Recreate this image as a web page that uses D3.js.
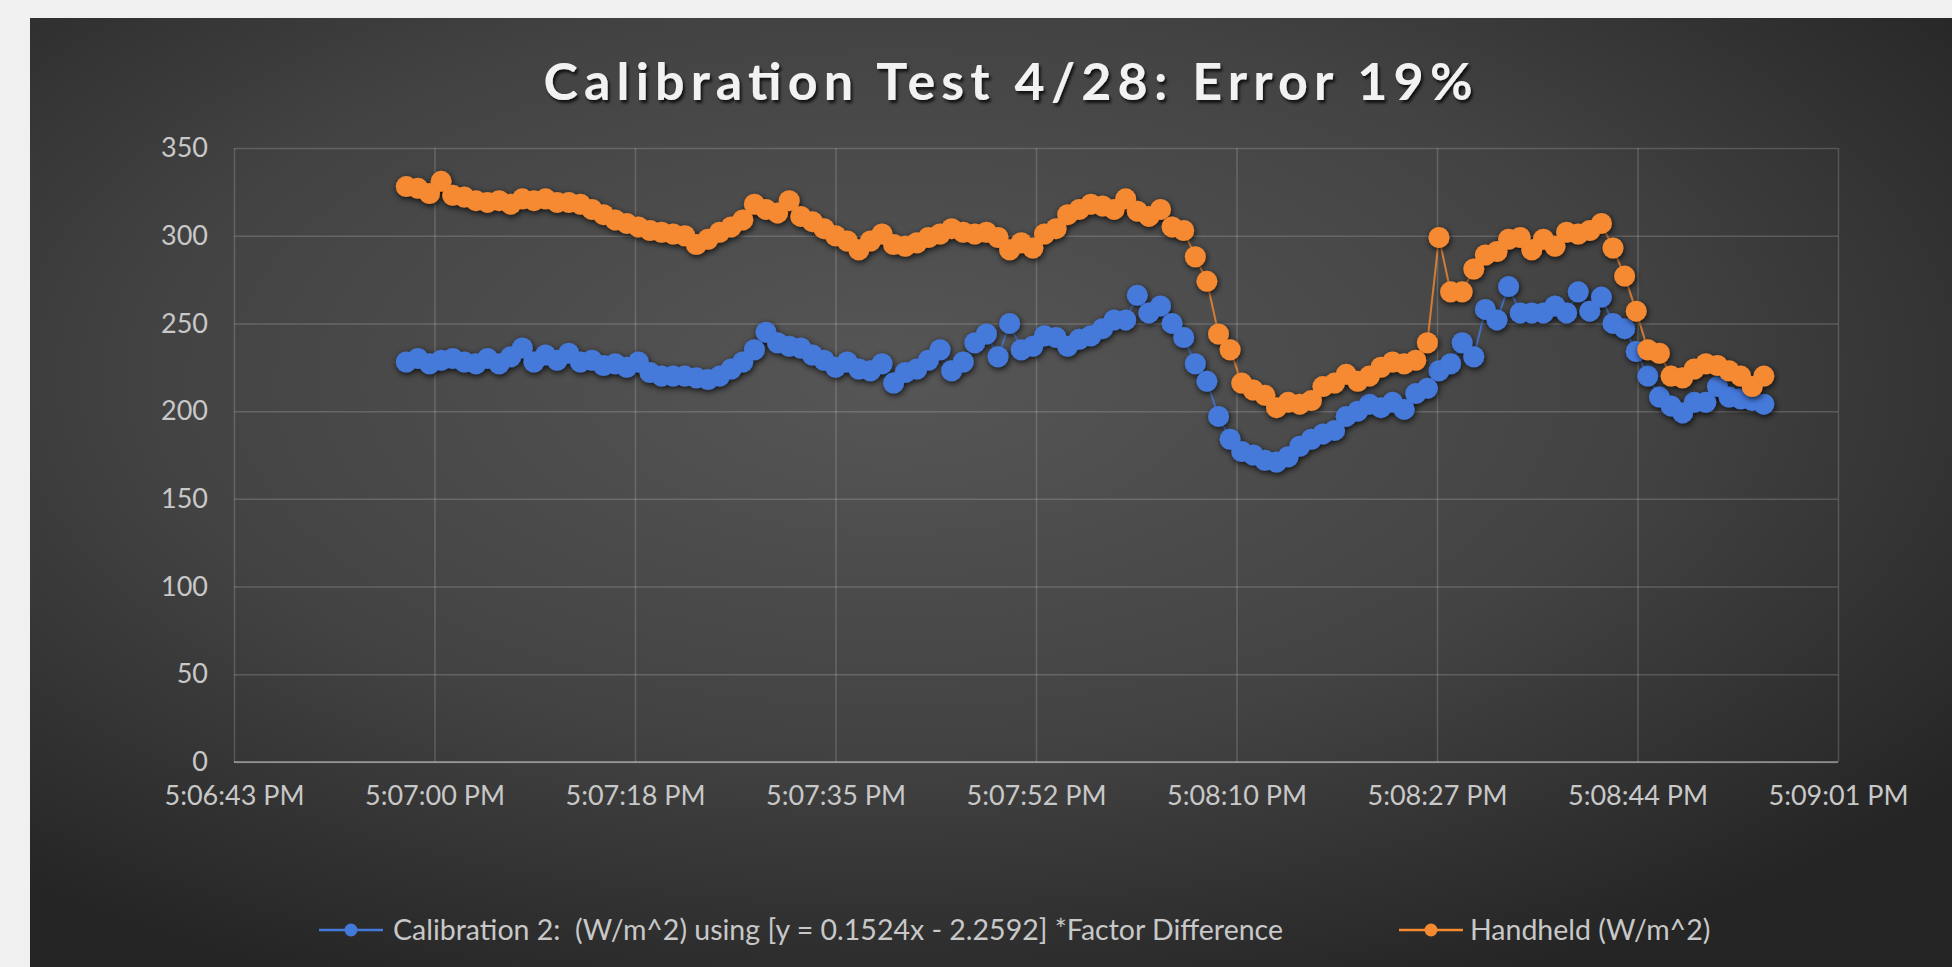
<!DOCTYPE html>
<html>
<head>
<meta charset="utf-8">
<script src="https://cdn.jsdelivr.net/npm/d3@7"></script>
<style>
  body { margin: 0; background: #f0f0f0; }
  svg { display: block; }
  text { font-family: Lato, "Open Sans", sans-serif; }
</style>
</head>
<body>
<svg id="chart" width="1952" height="967"></svg>
<script>
// reading times, seconds after 5:06:00 PM
var secs = [58,59,60,61,62,63,64,65,66,67,68,69,70,71,72,73,74,75,76,77,
  78,79,80,81,82,83,84,85,86,87,88,89,90,91,92,93,94,95,96,97,
  98,99,100,101,102,103,104,105,106,107,108,109,110,111,112,113,114,115,116,117,
  118,119,120,121,122,123,124,125,126,127,128,129,130,131,132,133,134,135,136,137,
  138,139,140,141,142,143,144,145,146,147,148,149,150,151,152,153,154,155,156,157,
  158,159,160,161,162,163,164,165,166,167,168,169,170,171,172,173,174,175];

// Calibration 2 (W/m^2)
var calibration = [228,230,227,229,230,228,227,230,227,231,
  236,228,232,229,233,228,229,226,227,225,
  228,222,220,220,220,219,218,220,224,228,
  235,245,239,237,236,232,229,225,228,224,
  223,227,216,222,224,229,235,223,228,239,
  244,231,250,235,237,243,242,237,241,243,
  247,252,252,266,256,260,250,242,227,217,
  197,184,177,175,172,171,174,180,184,187,
  189,197,200,204,202,205,201,210,213,223,
  227,239,231,258,252,271,256,256,256,260,
  256,268,257,265,250,247,234,220,208,203,
  199,205,205,214,208,207,206,204];

// Handheld (W/m^2)
var handheld = [328,327,324,331,323,322,320,319,320,318,
  321,320,321,319,319,318,315,312,309,307,
  305,303,302,301,300,295,298,302,305,309,
  318,315,313,320,311,308,304,300,297,292,
  297,301,295,294,296,299,301,304,302,301,
  302,299,292,296,293,301,304,312,315,318,
  317,315,321,314,311,315,305,303,288,274,
  244,235,216,212,209,202,205,204,206,214,
  216,221,217,220,225,228,227,229,239,299,
  268,268,281,289,291,298,299,292,298,294,
  302,301,303,307,293,277,257,235,233,220,
  219,224,227,226,223,220,214,220];

var seriesNames = ["Calibration 2:  (W/m^2) using [y = 0.1524x - 2.2592] *Factor Difference", "Handheld (W/m^2)"];
var seriesColors = ["#4479da", "#f68a31"];

var yTicks = [0, 50, 100, 150, 200, 250, 300, 350];
// axis ticks, seconds after 5:06:00 PM (Excel major unit 0.0002 day)
var xTickSecs = [43.15, 60.43, 77.71, 94.99, 112.27, 129.55, 146.83, 164.11, 181.39];
var xTickLabels = ["5:06:43 PM", "5:07:00 PM", "5:07:18 PM", "5:07:35 PM", "5:07:52 PM",
  "5:08:10 PM", "5:08:27 PM", "5:08:44 PM", "5:09:01 PM"];

var svg = d3.select("#chart");
var W = 1952, H = 967;
var plotLeft = 234, plotRight = 1838, plotTop = 148, plotBottom = 762;

var defs = svg.append("defs");
var grad = defs.append("radialGradient").attr("id", "bg")
  .attr("cx", "45%").attr("cy", "38%").attr("r", "70%");
grad.append("stop").attr("offset", "0%").attr("stop-color", "#565656");
grad.append("stop").attr("offset", "55%").attr("stop-color", "#434343");
grad.append("stop").attr("offset", "100%").attr("stop-color", "#252525");

var shadow = defs.append("filter").attr("id", "shadow")
  .attr("x", "-10%").attr("y", "-10%").attr("width", "120%").attr("height", "120%");
shadow.append("feDropShadow").attr("dx", 1).attr("dy", 2).attr("stdDeviation", 3)
  .attr("flood-color", "#000").attr("flood-opacity", 0.8);

var tshadow = defs.append("filter").attr("id", "tshadow");
tshadow.append("feDropShadow").attr("dx", 2).attr("dy", 3).attr("stdDeviation", 1.5)
  .attr("flood-color", "#000").attr("flood-opacity", 0.75);

// dark panel
svg.append("rect").attr("x", 30).attr("y", 18).attr("width", W - 30).attr("height", H - 18)
  .attr("fill", "url(#bg)");

var x = d3.scaleLinear().domain([xTickSecs[0], xTickSecs[xTickSecs.length - 1]]).range([plotLeft, plotRight]);
var y = d3.scaleLinear().domain([0, 350]).range([plotBottom, plotTop]);

// gridlines
svg.append("g").attr("class", "ygrid")
  .attr("transform", "translate(" + plotLeft + ",0)")
  .call(d3.axisLeft(y).tickValues(yTicks).tickSize(-(plotRight - plotLeft)).tickFormat(""))
  .call(function(g) { g.select(".domain").remove(); })
  .selectAll("line").attr("stroke", "#ffffff").attr("stroke-opacity", 0.17).attr("stroke-width", 1.5);

svg.append("g").attr("class", "xgrid")
  .attr("transform", "translate(0," + plotBottom + ")")
  .call(d3.axisBottom(x).tickValues(xTickSecs).tickSize(-(plotBottom - plotTop)).tickFormat(""))
  .call(function(g) { g.select(".domain").remove(); })
  .selectAll("line").attr("stroke", "#ffffff").attr("stroke-opacity", 0.17).attr("stroke-width", 1.5);

// axis line
svg.append("line").attr("x1", plotLeft).attr("x2", plotRight).attr("y1", y(0)).attr("y2", y(0))
  .attr("stroke", "#ffffff").attr("stroke-opacity", 0.35).attr("stroke-width", 2);

// tick labels
var yAxis = svg.append("g").attr("transform", "translate(" + plotLeft + ",0)")
  .call(d3.axisLeft(y).tickValues(yTicks).tickSize(0).tickPadding(26));
yAxis.select(".domain").remove();
yAxis.selectAll("text").attr("fill", "#c8c8c8").style("font-size", "27px");

var xAxis = svg.append("g").attr("transform", "translate(0," + plotBottom + ")")
  .call(d3.axisBottom(x).tickValues(xTickSecs).tickSize(0).tickPadding(24)
    .tickFormat(function(d, i) { return xTickLabels[i]; }));
xAxis.select(".domain").remove();
xAxis.selectAll("text").attr("fill", "#c8c8c8").style("font-size", "27px");

// series: blue first, orange drawn over it
var series = [calibration, handheld];
var line = d3.line().x(function(d, i) { return x(secs[i]); }).y(function(d) { return y(d); });

series.forEach(function(vals, s) {
  var g = svg.append("g").attr("class", "series");
  g.append("path").datum(vals).attr("d", line)
    .attr("fill", "none").attr("stroke", seriesColors[s]).attr("stroke-width", 2).attr("stroke-opacity", 0.8);
  g.append("g").attr("filter", "url(#shadow)")
    .selectAll("circle").data(vals).enter().append("circle")
    .attr("cx", function(d, i) { return x(secs[i]); })
    .attr("cy", function(d) { return y(d); })
    .attr("r", 10.5)
    .attr("fill", seriesColors[s]);
});

// title
svg.append("text").attr("x", 1008).attr("y", 100).attr("text-anchor", "middle")
  .attr("fill", "#f2f2f2").attr("filter", "url(#tshadow)")
  .style("font-size", "52px").style("font-weight", 700)
  .attr("textLength", 929).attr("lengthAdjust", "spacing")
  .text("Calibration Test 4/28: Error 19%");

// legend
var legendX = [319, 1399];
var legendText = [393, 1470];
var legend = svg.append("g").selectAll("g").data(seriesNames).enter().append("g")
  .attr("transform", function(d, i) { return "translate(" + legendX[i] + ",930)"; });
legend.append("line").attr("x1", 0).attr("x2", 64).attr("y1", 0).attr("y2", 0)
  .attr("stroke", function(d, i) { return seriesColors[i]; }).attr("stroke-width", 2.5);
legend.append("circle").attr("cx", 32).attr("cy", 0).attr("r", 6.5)
  .attr("fill", function(d, i) { return seriesColors[i]; });
legend.append("text")
  .attr("x", function(d, i) { return legendText[i] - legendX[i]; })
  .attr("y", 0).attr("dy", "0.35em")
  .attr("fill", "#c8c8c8").style("font-size", "28.5px").style("white-space", "pre")
  .text(function(d) { return d; });
</script>
</body>
</html>
